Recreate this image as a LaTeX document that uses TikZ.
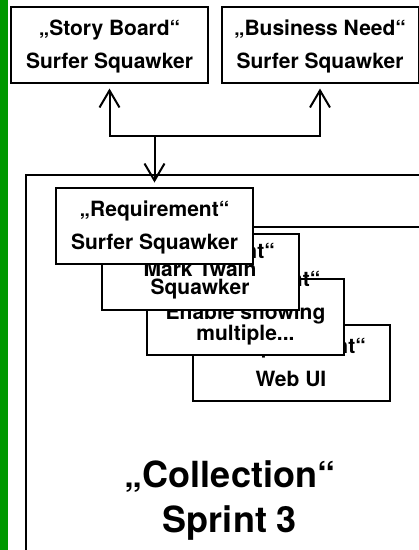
\documentclass[tikz,border=0pt]{standalone}
\usepackage{fontspec}
\setmainfont{TeX Gyre Heros}
\usetikzlibrary{arrows.meta}
\definecolor{sidegreen}{RGB}{0,153,0}
\tikzset{
  card/.style={draw, line width=2pt, fill=white, minimum width=197pt, minimum height=76pt, inner sep=0pt},
  cardtext/.style={font=\bfseries\fontsize{21}{18}\selectfont, anchor=base, inner sep=0pt, align=center},
  link/.style={line width=2pt, -{Straight Barb[length=17pt,width=20pt]}, shorten >=4.5pt},
}
\begin{document}
\begin{tikzpicture}[x=1pt, y=-1pt]
\useasboundingbox (0,0) rectangle (419,550);
\clip (0,0) rectangle (419,550);
\fill[sidegreen] (0,0) rectangle (8,550);
% collection frame
\draw[line width=2pt] (26,175) rectangle (440,570);
\draw[line width=2pt] (200,227) -- (440,227);
\node[cardtext, font=\bfseries\fontsize{36}{45}\selectfont] (coll) at (230,532) {„Collection“\\Sprint 3};
% sources
\node[card] (sb) at (109.5,45) {};
\node[cardtext] (sbTitle) at (109.5,35.5) {„Story Board“};
\node[cardtext] (sbName) at (109.5,68.5) {Surfer Squawker};
\node[card] (bn) at (320,45) {};
\node[cardtext] (bnTitle) at (320,35.5) {„Business Need“};
\node[cardtext] (bnName) at (320,68.5) {Surfer Squawker};
% requirements, back to front
\node[card] (wu) at (291,362.5) {};
\node[cardtext] (wuTitle) at (291,353) {„Requirement“};
\node[cardtext] (wuName) at (291,386) {Web UI};
\node[card] (en) at (245.5,317) {};
\node[cardtext] (enTitle) at (245.5,286) {„Requirement“};
\node[cardtext] (enName) at (245.5,340.5) {Enable showing\\multiple...};
\node[card] (mt) at (200,271.5) {};
\node[cardtext] (mtTitle) at (200,258.5) {„Requirement“};
\node[cardtext] (mtName) at (200,294.5) {Mark Twain\\Squawker};
\node[card] (req) at (154.5,226) {};
\node[cardtext] (reqTitle) at (154.5,216.5) {„Requirement“};
\node[cardtext] (reqName) at (154.5,249.5) {Surfer Squawker};
% links
\coordinate (jn) at (154.5,136);
\draw[link] (jn) -| (sb);
\draw[link] (jn) -| (bn);
\draw[link] (jn) -- (req);
\end{tikzpicture}
\end{document}
